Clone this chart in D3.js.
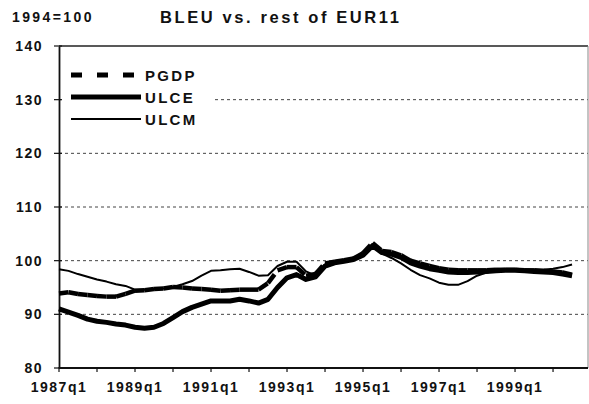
<!DOCTYPE html>
<html>
<head>
<meta charset="utf-8">
<script src="https://cdn.jsdelivr.net/npm/d3@7/dist/d3.min.js"></script>
<style>
  body { margin: 0; background: #fff; }
  text { font-family: Arial, "Liberation Sans", sans-serif; fill: #111; }
</style>
</head>
<body>
<svg id="chart" width="589" height="404"></svg>
<script>
// quarterly series, 1987q1 .. 2000q3
const startYear = 1987
const pgdp = [93.9, 94.1, 93.8, 93.6, 93.4, 93.3, 93.3, 93.8, 94.4, 94.5, 94.7, 94.8, 95.1, 95.0, 94.8, 94.7,
  94.6, 94.4, 94.5, 94.6, 94.6, 94.6, 95.8, 98.2, 98.8, 98.8, 97.2, 97.5, 99.5, 99.8, 100.1, 100.4,
  101.4, 103.3, 101.8, 101.6, 101.0, 100.0, 99.5, 99.0, 98.6, 98.3, 98.2, 98.2, 98.2, 98.2, 98.3, 98.3,
  98.3, 98.2, 98.2, 98.1, 98.0, 97.8, 97.4]
const ulce = [91.0, 90.4, 89.8, 89.1, 88.7, 88.5, 88.2, 88.0, 87.6, 87.4, 87.6, 88.3, 89.4, 90.5, 91.3, 91.9,
  92.5, 92.5, 92.5, 92.8, 92.5, 92.1, 92.8, 95.0, 96.8, 97.4, 96.5, 97.0, 99.0, 99.6, 99.9, 100.2,
  101.0, 102.8, 101.5, 101.2, 100.6, 99.6, 99.0, 98.5, 98.2, 97.9, 97.8, 97.8, 97.9, 98.0, 98.1, 98.2,
  98.2, 98.1, 98.0, 97.9, 97.8, 97.5, 97.2]
const ulcm = [98.4, 98.1, 97.5, 97.0, 96.5, 96.1, 95.6, 95.3, 94.6, 94.6, 94.7, 94.8, 95.1, 95.6, 96.2, 97.2,
  98.1, 98.2, 98.4, 98.5, 97.9, 97.2, 97.3, 99.0, 99.8, 99.8, 98.0, 97.2, 99.3, 99.8, 100.1, 100.3,
  101.2, 103.0, 101.3, 100.5, 99.5, 98.3, 97.3, 96.7, 95.9, 95.5, 95.5, 96.2, 97.2, 97.8, 98.1, 98.2,
  98.2, 98.2, 98.2, 98.3, 98.5, 98.8, 99.3]
const quarters = pgdp.map((d, i) => (startYear + Math.floor(i / 4)) + 'q' + (i % 4 + 1))
const xLabels = ['1987q1', '1989q1', '1991q1', '1993q1', '1995q1', '1997q1', '1999q1']
const yTicks = [80, 90, 100, 110, 120, 130, 140]
const gridVals = [90, 100, 110, 120, 130]

const svg = d3.select('#chart')
const plotL = 59, plotR = 588, plotT = 46, plotB = 368

const x = d3.scaleLinear().domain([0, 55.68]).range([plotL, plotR])
const y = d3.scaleLinear().domain([80, 140]).range([plotB, plotT])

// grid
svg.append('g').selectAll('line').data(gridVals).enter().append('line')
  .attr('x1', plotL).attr('x2', plotR)
  .attr('y1', d => y(d)).attr('y2', d => y(d))
  .attr('stroke', '#444').attr('stroke-width', 1).attr('stroke-dasharray', '3,3')

// frame: top and right
svg.append('line').attr('x1', plotL).attr('x2', plotR).attr('y1', y(140)).attr('y2', y(140))
  .attr('stroke', '#222').attr('stroke-width', 1.4)
svg.append('line').attr('x1', plotR).attr('x2', plotR).attr('y1', y(140)).attr('y2', y(80))
  .attr('stroke', '#888').attr('stroke-width', 1)

// legend background hides grid behind it
svg.append('rect').attr('x', plotL + 2).attr('y', 58).attr('width', 152).attr('height', 72).attr('fill', '#fff')

// y axis
const yAxis = d3.axisLeft(y).tickValues(yTicks).tickSize(0).tickPadding(16)
const gy = svg.append('g').attr('transform', `translate(${plotL},0)`).call(yAxis)
gy.select('.domain').attr('stroke', '#111').attr('stroke-width', 1.8)
gy.selectAll('text').style('font-size', '14px').style('font-weight', 'bold').style('letter-spacing', '1.5px')
  .style('font-family', 'Arial, "Liberation Sans", sans-serif').attr('fill', '#111')
svg.append('g').selectAll('line').data(yTicks).enter().append('line')
  .attr('x1', plotL - 5).attr('x2', plotL + 3)
  .attr('y1', d => y(d)).attr('y2', d => y(d))
  .attr('stroke', '#111').attr('stroke-width', 1.2)

// x axis
const yearTicks = d3.range(0, 56, 4)
svg.append('line').attr('x1', plotL).attr('x2', plotR).attr('y1', plotB).attr('y2', plotB)
  .attr('stroke', '#111').attr('stroke-width', 1.8)
svg.append('g').selectAll('line').data(yearTicks).enter().append('line')
  .attr('x1', d => x(d)).attr('x2', d => x(d))
  .attr('y1', plotB - 1).attr('y2', plotB + 4)
  .attr('stroke', '#111').attr('stroke-width', 1.2)
svg.append('g').selectAll('text').data(xLabels).enter().append('text')
  .attr('x', d => x(quarters.indexOf(d)))
  .attr('y', 392)
  .attr('text-anchor', 'middle')
  .style('font-size', '14px').style('font-weight', 'bold').style('letter-spacing', '1.5px')
  .text(d => d)

// series
const line = d3.line().x((d, i) => x(i)).y(d => y(d))
svg.append('path').datum(ulcm).attr('d', line)
  .attr('fill', 'none').attr('stroke', '#000').attr('stroke-width', 2).attr('stroke-linejoin', 'round')
svg.append('path').datum(ulce).attr('d', line)
  .attr('fill', 'none').attr('stroke', '#000').attr('stroke-width', 5).attr('stroke-linejoin', 'round')
// dashed series: dash pattern restarts at each segment, as in the original print
svg.append('g').selectAll('line').data(d3.pairs(pgdp.map((v, i) => [i, v]))).enter().append('line')
  .attr('x1', d => x(d[0][0])).attr('y1', d => y(d[0][1]))
  .attr('x2', d => x(d[1][0])).attr('y2', d => y(d[1][1]))
  .attr('stroke', '#000').attr('stroke-width', 4.5).attr('stroke-dasharray', '11,7')

// legend
const legend = [
  { name: 'PGDP', w: 5, dash: '11,15', y: 75 },
  { name: 'ULCE', w: 5, dash: null, y: 97 },
  { name: 'ULCM', w: 2, dash: null, y: 119 }
]
const lg = svg.append('g').selectAll('g').data(legend).enter().append('g')
lg.append('line').attr('x1', 71).attr('x2', 141)
  .attr('y1', d => d.y).attr('y2', d => d.y)
  .attr('stroke', '#000').attr('stroke-width', d => d.w)
  .attr('stroke-dasharray', d => d.dash)
lg.append('text').attr('x', 145).attr('y', d => d.y + 5.5)
  .style('font-size', '15px').style('font-weight', 'bold').style('letter-spacing', '2.3px')
  .text(d => d.name)

// titles
svg.append('text').attr('x', 12).attr('y', 22)
  .style('font-size', '14px').style('font-weight', 'bold').style('letter-spacing', '2.4px')
  .text('1994=100')
svg.append('text').attr('x', 160).attr('y', 23)
  .style('font-size', '16.5px').style('font-weight', 'bold').style('letter-spacing', '2.6px')
  .text('BLEU vs. rest of EUR11')
</script>
</body>
</html>
